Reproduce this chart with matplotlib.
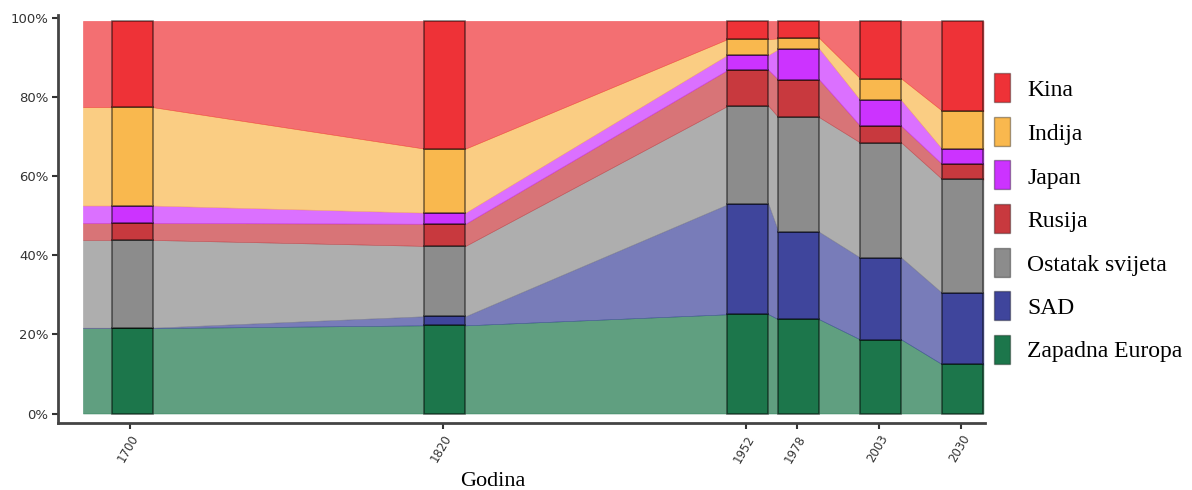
import matplotlib
matplotlib.use("Agg")
import matplotlib.pyplot as plt
from matplotlib.patches import Rectangle
import numpy as np

# ---- data (shares of world GDP, %) ----
years = ['1700', '1820', '1952', '1978', '2003', '2030']
zapadna_europa = [21.6, 22.3, 25.1, 23.8, 18.7, 12.4]
sad = [0.1, 2.3, 27.8, 22.1, 20.7, 18.0]
ostatak_svijeta = [22.2, 17.8, 24.9, 29.0, 29.1, 28.8]
rusija = [4.3, 5.6, 9.1, 9.5, 4.2, 3.8]
japan = [4.4, 2.8, 3.8, 7.8, 6.5, 3.8]
indija = [24.9, 16.2, 4.0, 2.7, 5.5, 9.7]
kina = [21.8, 32.3, 4.6, 4.4, 14.6, 22.8]

series_names = ['Zapadna Europa', 'SAD', 'Ostatak svijeta', 'Rusija', 'Japan', 'Indija', 'Kina']
series_values = [zapadna_europa, sad, ostatak_svijeta, rusija, japan, indija, kina]

# ---- layout / style ----
positions = np.array([132, 445, 748, 799, 881, 963], dtype=float)  # horizontal layout units
bar_w = 41.0
left_extension = 83.0
solid_colors = ['#1C764B', '#3F459C', '#8C8C8C', '#C8393E', '#CC33FF', '#F9B84E', '#EE3237']
area_alpha = 0.7

W, H = 1192, 490
fig = plt.figure(figsize=(W / 100, H / 100), dpi=100)
ax = fig.add_axes([58 / W, 1 - 423 / H, (985 - 58) / W, (423 - 15) / H])

vals = np.array(series_values, dtype=float)
cum = np.vstack([np.zeros(vals.shape[1]), np.cumsum(vals, axis=0)])

# polygon x vertices: flat across each bar, linear between bars
xv = [left_extension]
idx = [0]
for i, p in enumerate(positions):
    xv += [p - bar_w / 2, p + bar_w / 2]
    idx += [i, i]
xv = np.array(xv)
idx = np.array(idx)

for k in range(len(series_names)):
    lo = cum[k][idx]
    hi = cum[k + 1][idx]
    ax.fill_between(xv, lo, hi, color=solid_colors[k], alpha=area_alpha,
                    linewidth=0.4, edgecolor=solid_colors[k])

for k in range(len(series_names)):
    ax.bar(positions, vals[k], bottom=cum[k], width=bar_w, color=solid_colors[k],
           edgecolor=(0, 0, 0, 0.5), linewidth=1.2, zorder=3)

ax.set_xlim(58, 985)
ax.set_ylim(-2.4, 100.8)
ax.set_yticks([0, 20, 40, 60, 80, 100])
ax.set_yticklabels(['0%', '20%', '40%', '60%', '80%', '100%'], fontsize=9.5, color='#333333')
ax.set_xticks(positions - 2)
ax.set_xticklabels(years, rotation=60, ha='right', va='top', rotation_mode='anchor',
                   fontsize=8.5, color='#333333')
ax.tick_params(axis='both', length=4, width=1.5, color='#333333', pad=3)
for s in ['top', 'right']:
    ax.spines[s].set_visible(False)
for s in ['left', 'bottom']:
    ax.spines[s].set_linewidth(2)
    ax.spines[s].set_color('#444444')

fig.text(493 / W, 1 - 481 / H, 'Godina', family='Liberation Serif', fontsize=16,
         ha='center', va='center', color='black')

# ---- legend (top = Kina) ----
legend_order = list(range(len(series_names)))[::-1]
for r, k in enumerate(legend_order):
    yc = 88 + r * 43.5
    fig.patches.append(Rectangle((994 / W, 1 - (yc + 14.5) / H), 16 / W, 29 / H,
                                 transform=fig.transFigure, facecolor=solid_colors[k],
                                 edgecolor=(0, 0, 0, 0.35), linewidth=1.0))
    fig.text(1027 / W, 1 - (yc + 3) / H, series_names[k], family='Liberation Serif',
             fontsize=17, ha='left', va='center', color='black')

fig.savefig('out.png', dpi=100)
